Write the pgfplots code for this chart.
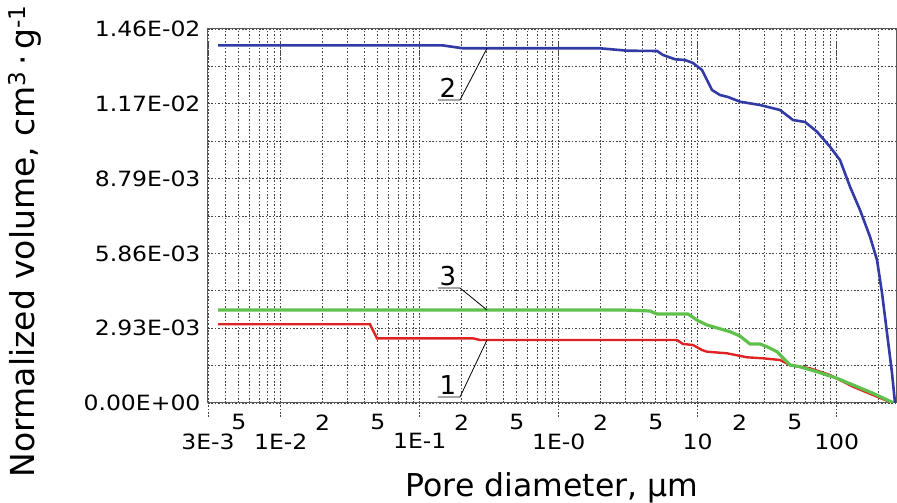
\documentclass[border=0pt]{standalone}
\usepackage{fontspec}
\setmainfont{DejaVu Sans}
\newfontfamily\tickfont[FakeStretch=1.12]{DejaVu Sans}
\usepackage{pgfplots}
\pgfplotsset{compat=1.18}

\definecolor{cblue}{RGB}{50,58,165}
\definecolor{cred}{RGB}{222,35,35}
\definecolor{cgreen}{RGB}{95,192,75}
\definecolor{cgrid}{RGB}{70,70,70}

\begin{document}
\begin{tikzpicture}[x=1pt,y=1pt]
\useasboundingbox (0,0) rectangle (897,503);
\begin{axis}[
  at={(208pt,100pt)}, anchor=south west,
  scale only axis, width=688pt, height=374pt,
  xmode=log, xmin=0.003, xmax=267, ymin=0, ymax=0.01465,
  scaled y ticks=false,
  axis line style={draw=black!65, line width=1pt},
  xtick={0.003,0.01,0.1,1,10,100},
  xticklabels={3E-3,1E-2,1E-1,1E-0,10,100},
  minor xtick={0.004,0.005,0.006,0.007,0.008,0.009,
    0.02,0.03,0.04,0.05,0.06,0.07,0.08,0.09,
    0.2,0.3,0.4,0.5,0.6,0.7,0.8,0.9,
    2,3,4,5,6,7,8,9,
    20,30,40,50,60,70,80,90,200},
  extra x ticks={0.005,0.02,0.05,0.2,0.5,2,5,20,50},
  extra x tick labels={5,2,5,2,5,2,5,2,5},
  extra x tick style={grid=none, major tick length=0pt, xticklabel shift=8pt},
  xticklabel shift=27pt,
  ytick={0,0.00293,0.00586,0.00879,0.01172,0.01465},
  yticklabels={0.00E+00,2.93E-03,5.86E-03,8.79E-03,1.17E-02,1.46E-02},
  minor y tick num=1,
  grid=both,
  major grid style={cgrid, line width=0.9pt, dash pattern=on 1.6pt off 1.8pt},
  minor grid style={cgrid, line width=0.9pt, dash pattern=on 1.6pt off 1.8pt},
  major tick length=14pt, minor tick length=0pt,
  x tick style={draw=cgrid, line width=0.9pt, dash pattern=on 1.6pt off 1.8pt, yshift=-14pt},
  y tick style={draw=none},
  tick label style={font=\tickfont\fontsize{21}{25}\selectfont},
  yticklabel shift=4pt,
  xlabel={Pore diameter, µm},
  xlabel style={at={(axis description cs:0.5,-0.2513)}, anchor=base, font=\fontsize{31.5}{36}\selectfont},
  ylabel={Normalized volume, cm\textsuperscript{3}\,·\,g\textsuperscript{-1}},
  ylabel style={at={(axis description cs:-0.266,0.433)}, anchor=center, font=\fontsize{33}{38}\selectfont},
]
% 1
\addplot[cred, line width=2.4pt] coordinates {
(0.00355,0.003083) (0.04389,0.003083) (0.04929,0.002534) (0.2418,0.002534)
(0.2711,0.002468) (7.10,0.002468) (7.84,0.002311) (9.25,0.002272)
(10.74,0.002076) (11.67,0.002009) (16.25,0.001947) (22.63,0.001790)
(29.50,0.001751) (39.09,0.001684) (46.13,0.001488) (64.26,0.001359)
(89.48,0.001097) (131.0,0.000638) (182.5,0.000313) (241.8,0.00004) (262.7,0)};
% 3
\addplot[cgreen, line width=3.2pt] coordinates {
(0.00355,0.003643) (2.90,0.003643) (4.54,0.003604) (5.10,0.003486)
(8.51,0.003486) (10.05,0.003224) (11.67,0.003055) (17.07,0.002793)
(20.15,0.002624) (23.78,0.002311) (28.07,0.002311) (31.52,0.002205)
(37.20,0.002009) (46.13,0.001488) (53.91,0.001422) (72.16,0.001226)
(100.5,0.000968) (131.0,0.000705) (182.5,0.00038) (254.1,0.00001) (262.7,0)};
% 2
\addplot[cblue, line width=2.6pt] coordinates {
(0.00355,0.014011) (0.1447,0.014011) (0.2049,0.013894) (1.982,0.013894)
(3.10,0.013800) (5.10,0.013788) (5.63,0.013631) (6.87,0.013463)
(8.10,0.013435) (9.25,0.013318) (10.74,0.013044) (11.67,0.012652)
(12.67,0.012260) (14.47,0.012064) (16.52,0.011986) (20.15,0.011802)
(28.07,0.011673) (39.09,0.011477) (48.49,0.011085) (59.16,0.011007)
(72.16,0.010627) (89.48,0.010039) (105.6,0.009518) (124.6,0.008473)
(147.1,0.007560) (173.6,0.006514) (195.0,0.005601) (211.8,0.004309)
(230.1,0.002742) (249.9,0.001175) (262.7,0)};

% callouts
\draw[black, line width=0.8pt] (axis cs:0.1354,0.011869) -- (axis cs:0.195,0.011869) -- (axis cs:0.305,0.013894);
\node[anchor=south, inner sep=2pt, font=\fontsize{26}{30}\selectfont] at (axis cs:0.1598,0.011869) {2};
\draw[black, line width=0.8pt] (axis cs:0.1354,0.004505) -- (axis cs:0.195,0.004505) -- (axis cs:0.305,0.003643);
\node[anchor=south, inner sep=2pt, font=\fontsize{26}{30}\selectfont] at (axis cs:0.1598,0.004505) {3};
\draw[black, line width=0.8pt] (axis cs:0.1354,0.000235) -- (axis cs:0.195,0.000235) -- (axis cs:0.305,0.002468);
\node[anchor=south, inner sep=2pt, font=\fontsize{26}{30}\selectfont] at (axis cs:0.1598,0.000235) {1};
\end{axis}
\end{tikzpicture}
\end{document}
